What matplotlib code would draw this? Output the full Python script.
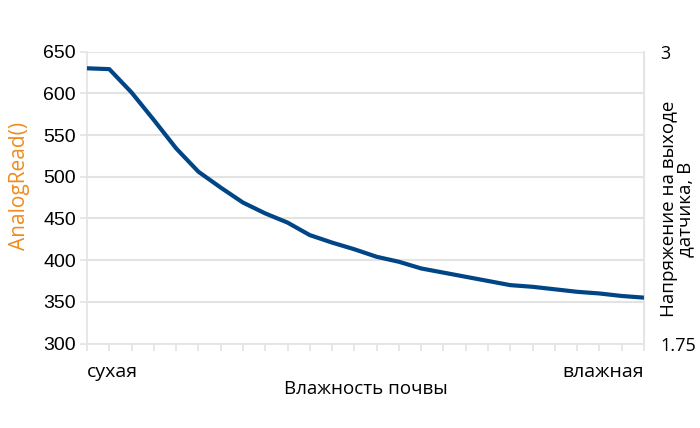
import numpy as np
from matplotlib import pyplot as plt


## data
analogValues = [630, 629, 601, 568, 534, 506, 487, 469, 456, 445, 430, 421, 413,
                404, 398, 390, 385, 380, 375, 370, 368, 365, 362, 360, 357, 355]
categoryLabels = ['сухая'] + [''] * 24 + ['влажная']
leftTicks = [300, 350, 400, 450, 500, 550, 600, 650]
rightTicks = [1.75, 3]
rightTickLabels = ['1.75', '3']

lineColor = '#004586'
labelColor = '#f08c1e'
gridColor = '#e3e3e3'


## figure
fig = plt.figure(figsize=(7, 4.28), dpi=100)
ax = fig.add_axes([0.1243, 0.1974, 0.7957, 0.682])
xPositions = np.arange(len(analogValues))

ax.plot(xPositions, analogValues, color=lineColor, linewidth=3, solid_joinstyle='round', zorder=3)

ax.set_xlim(0, len(analogValues) - 1)
ax.set_ylim(300, 650)
ax.set_yticks(leftTicks)
ax.set_yticklabels([str(v) for v in leftTicks], fontfamily='Liberation Sans', fontsize=14)
ax.set_xticks(xPositions)
ax.set_xticklabels(categoryLabels, fontfamily='Open Sans', fontsize=14)
xLabels = ax.get_xticklabels()
xLabels[0].set_ha('left')
xLabels[-1].set_ha('right')

ax.grid(axis='y', color=gridColor, linewidth=1.5)
ax.set_axisbelow(True)
for side in ['left', 'bottom', 'right']:
    ax.spines[side].set_color(gridColor)
    ax.spines[side].set_linewidth(1.2)
ax.spines['top'].set_visible(False)
ax.tick_params(axis='both', color=gridColor, length=5, width=1.2, labelcolor='black')
ax.tick_params(axis='x', pad=9)
ax.tick_params(axis='y', pad=3)

ax.set_xlabel('Влажность почвы', fontfamily='Open Sans', fontsize=13.5, labelpad=-1)
ax.set_ylabel('AnalogRead()', fontfamily='Open Sans', fontsize=15, color=labelColor)
ax.yaxis.label.set_va('center')
ax.yaxis.set_label_coords(-0.122, 0.54)

# right axis for sensor voltage
ax2 = ax.twinx()
ax2.set_ylim(1.75, 3)
ax2.set_yticks(rightTicks)
ax2.set_yticklabels(rightTickLabels, fontfamily='Open Sans', fontsize=13)
ax2.tick_params(axis='y', length=0, pad=12)
for side in ['left', 'bottom', 'top']:
    ax2.spines[side].set_visible(False)
ax2.spines['right'].set_color(gridColor)
ax2.set_ylabel('Напряжение на выходе\nдатчика, В', fontfamily='Open Sans', fontsize=13.5,
               linespacing=0.85)
ax2.yaxis.label.set_va('center')
ax2.yaxis.label.set_ha('center')
ax2.yaxis.set_label_coords(1.06, 0.46)

fig.savefig('out.png', dpi=100)
